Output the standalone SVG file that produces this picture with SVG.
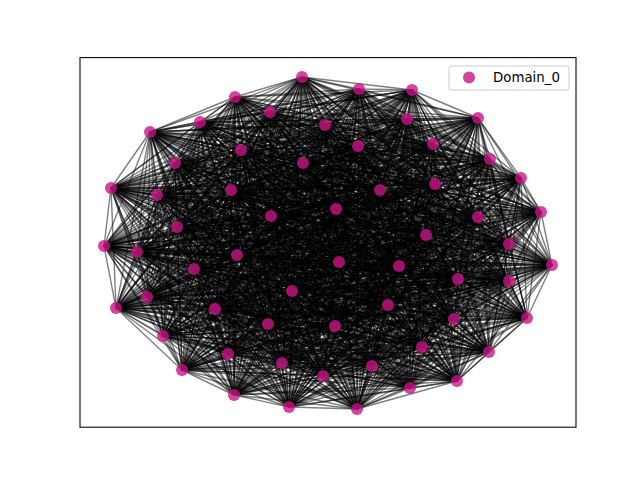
<svg xmlns="http://www.w3.org/2000/svg" width="640" height="480" viewBox="0 0 640 480">
<style>
.e{fill:none;stroke:#000;stroke-opacity:0.5;stroke-width:1.39;stroke-linejoin:round}
.n circle{fill:#c71585;fill-opacity:0.8}
.t{font-family:"DejaVu Sans",sans-serif;font-size:13.33px;fill:#000}
</style>
<rect x="0" y="0" width="640" height="480" fill="#fff"/>
<g id="edges">
<path class="e" d="M302 77 359 89 412 90 235 97 270 112 200 122 325 125 407 119 478 118 150 132 358 146 433 144 241 150 303 163 175 163 490 159 111 188 521 178 157 195 231 190 380 190 435 184 336 209 541 212 271 216 478 217 177 227 426 235 104 246 509 244 137 252 237 255 339 262 552 265 399 266 194 269 458 279 509 281 292 291 147 297 116 308 388 305 215 309 527 318 454 319 268 324 335 326 163 336 422 347 489 352 228 354 282 363 372 366 182 370 323 376 457 381 410 388 234 395 289 407 357 409Z"/>
<path class="e" d="M302 77 412 90 270 112 325 125 478 118 358 146 241 150 175 163 111 188 157 195 380 190 336 209 271 216 177 227 104 246 137 252 339 262 399 266 458 279 292 291 116 308 215 309 454 319 335 326 422 347 228 354 372 366 323 376 410 388 289 407Z M359 89 235 97 200 122 407 119 150 132 433 144 303 163 490 159 521 178 231 190 435 184 541 212 478 217 426 235 509 244 237 255 552 265 194 269 509 281 147 297 388 305 527 318 268 324 163 336 489 352 282 363 182 370 457 381 234 395 357 409Z"/>
<path class="e" d="M302 77 235 97 325 125 150 132 241 150 490 159 157 195 435 184 271 216 426 235 137 252 552 265 458 279 147 297 215 309 268 324 422 347 282 363 323 376 234 395Z M359 89 270 112 407 119 358 146 303 163 111 188 231 190 336 209 478 217 104 246 237 255 399 266 509 281 116 308 527 318 335 326 489 352 372 366 457 381 289 407Z M412 90 200 122 478 118 433 144 175 163 521 178 380 190 541 212 177 227 509 244 339 262 194 269 292 291 388 305 454 319 163 336 228 354 182 370 410 388 357 409Z"/>
<path class="e" d="M302 77 270 112 478 118 241 150 111 188 380 190 271 216 104 246 339 262 458 279 116 308 454 319 422 347 372 366 410 388Z M359 89 200 122 150 132 303 163 521 178 435 184 478 217 509 244 552 265 509 281 388 305 268 324 489 352 182 370 234 395Z M412 90 325 125 358 146 175 163 157 195 336 209 177 227 137 252 399 266 292 291 215 309 335 326 228 354 323 376 289 407Z M235 97 407 119 433 144 490 159 231 190 541 212 426 235 237 255 194 269 147 297 527 318 163 336 282 363 457 381 357 409Z"/>
<path class="e" d="M302 77 200 122 358 146 490 159 380 190 478 217 137 252 194 269 116 308 268 324 228 354 457 381Z M359 89 325 125 433 144 111 188 435 184 177 227 237 255 458 279 388 305 335 326 282 363 410 388Z M412 90 407 119 241 150 521 178 336 209 426 235 339 262 509 281 215 309 163 336 372 366 234 395Z M235 97 478 118 303 163 157 195 541 212 104 246 552 265 292 291 527 318 422 347 182 370 289 407Z M270 112 150 132 175 163 231 190 271 216 509 244 399 266 147 297 454 319 489 352 323 376 357 409Z"/>
<path class="e" d="M302 77 325 125 241 150 157 195 271 216 137 252 458 279 215 309 422 347 323 376Z M359 89 407 119 303 163 231 190 478 217 237 255 509 281 527 318 489 352 457 381Z M412 90 478 118 175 163 380 190 177 227 339 262 292 291 454 319 228 354 410 388Z M235 97 150 132 490 159 435 184 426 235 552 265 147 297 268 324 282 363 234 395Z M270 112 358 146 111 188 336 209 104 246 399 266 116 308 335 326 372 366 289 407Z M200 122 433 144 521 178 541 212 509 244 194 269 388 305 163 336 182 370 357 409Z"/>
<path class="e" d="M302 77 407 119 175 163 435 184 104 246 194 269 215 309 489 352 410 388 235 97 358 146 521 178 271 216 237 255 292 291 268 324 372 366 357 409 325 125 303 163 380 190 426 235 399 266 388 305 422 347 457 381 412 90 150 132 111 188 541 212 137 252 509 281 454 319 282 363 289 407 200 122 241 150 231 190 177 227 552 265 116 308 163 336 323 376 359 89 478 118 490 159 336 209 509 244 458 279 527 318 228 354 234 395 270 112 433 144 157 195 478 217 339 262 147 297 335 326 182 370Z"/>
<path class="e" d="M302 77 478 118 111 188 271 216 339 262 116 308 422 347 410 388 270 112 241 150 380 190 104 246 458 279 454 319 372 366Z M359 89 150 132 521 178 478 217 552 265 388 305 489 352 234 395 200 122 303 163 435 184 509 244 509 281 268 324 182 370Z M412 90 358 146 157 195 177 227 399 266 215 309 228 354 289 407 325 125 175 163 336 209 137 252 292 291 335 326 323 376Z M235 97 433 144 231 190 426 235 194 269 527 318 282 363 357 409 407 119 490 159 541 212 237 255 147 297 163 336 457 381Z"/>
<path class="e" d="M302 77 150 132 157 195 426 235 458 279 268 324 323 376 235 97 241 150 435 184 137 252 147 297 422 347 234 395 325 125 490 159 271 216 552 265 215 309 282 363Z M359 89 358 146 231 190 104 246 509 281 335 326 457 381 270 112 303 163 336 209 237 255 116 308 489 352 289 407 407 119 111 188 478 217 399 266 527 318 372 366Z M412 90 433 144 380 190 509 244 292 291 163 336 410 388 200 122 175 163 541 212 339 262 388 305 228 354 357 409 478 118 521 178 177 227 194 269 454 319 182 370Z"/>
<path class="e" d="M302 77 358 146 380 190 137 252 116 308 228 354Z M359 89 433 144 435 184 237 255 388 305 282 363Z M412 90 241 150 336 209 339 262 215 309 372 366Z M235 97 303 163 541 212 552 265 527 318 182 370Z M270 112 175 163 271 216 399 266 454 319 323 376Z M200 122 490 159 478 217 194 269 268 324 457 381Z M325 125 111 188 177 227 458 279 335 326 410 388Z M407 119 521 178 426 235 509 281 163 336 234 395Z M478 118 157 195 104 246 292 291 422 347 289 407Z M150 132 231 190 509 244 147 297 489 352 357 409Z"/>
<path class="e" d="M302 77 433 144 336 209 552 265 454 319 457 381 325 125 521 178 104 246 147 297 228 354 359 89 241 150 541 212 399 266 268 324 410 388 407 119 157 195 509 244 116 308 282 363 412 90 303 163 271 216 194 269 335 326 234 395 478 118 231 190 137 252 388 305 372 366 235 97 175 163 478 217 458 279 163 336 289 407 150 132 380 190 237 255 215 309 182 370 270 112 490 159 177 227 509 281 422 347 357 409 358 146 435 184 339 262 527 318 323 376 200 122 111 188 426 235 292 291 489 352Z"/>
<path class="e" d="M302 77 241 150 271 216 458 279 422 347Z M359 89 303 163 478 217 509 281 489 352Z M412 90 175 163 177 227 292 291 228 354Z M235 97 490 159 426 235 147 297 282 363Z M270 112 111 188 104 246 116 308 372 366Z M200 122 521 178 509 244 388 305 182 370Z M325 125 157 195 137 252 215 309 323 376Z M407 119 231 190 237 255 527 318 457 381Z M478 118 380 190 339 262 454 319 410 388Z M150 132 435 184 552 265 268 324 234 395Z M358 146 336 209 399 266 335 326 289 407Z M433 144 541 212 194 269 163 336 357 409Z"/>
<path class="e" d="M302 77 303 163 177 227 147 297 372 366 200 122 157 195 237 255 454 319 234 395 358 146 541 212 458 279 489 352 412 90 490 159 104 246 388 305 323 376 407 119 380 190 552 265 335 326 357 409 241 150 478 217 292 291 282 363 270 112 521 178 137 252 527 318 410 388 150 132 336 209 194 269 422 347 359 89 175 163 426 235 116 308 182 370 325 125 231 190 339 262 268 324 289 407 433 144 271 216 509 281 228 354 235 97 111 188 509 244 215 309 457 381 478 118 435 184 399 266 163 336Z"/>
<path class="e" d="M302 77 175 163 104 246 215 309 410 388 358 146 271 216 292 291 372 366 325 125 380 190 399 266 422 347 412 90 111 188 137 252 454 319 289 407 241 150 177 227 116 308 323 376 478 118 336 209 458 279 228 354 270 112 157 195 339 262 335 326Z M359 89 490 159 509 244 527 318 234 395 433 144 478 217 147 297 182 370 407 119 435 184 194 269 489 352 235 97 521 178 237 255 268 324 357 409 303 163 426 235 388 305 457 381 150 132 541 212 509 281 282 363 200 122 231 190 552 265 163 336Z"/>
<path class="e" d="M302 77 490 159 137 252 268 324Z M302 77 137 252 M490 159 268 324 M359 89 111 188 237 255 335 326Z M359 89 237 255 M111 188 335 326 M412 90 521 178 339 262 163 336Z M412 90 339 262 M521 178 163 336 M235 97 157 195 552 265 422 347Z M235 97 552 265 M157 195 422 347 M270 112 231 190 399 266 489 352Z M270 112 399 266 M231 190 489 352 M200 122 380 190 194 269 228 354Z M200 122 194 269 M380 190 228 354 M325 125 435 184 458 279 282 363Z M325 125 458 279 M435 184 282 363 M407 119 336 209 509 281 372 366Z M407 119 509 281 M336 209 372 366 M478 118 541 212 292 291 182 370Z M478 118 292 291 M541 212 182 370 M150 132 271 216 147 297 323 376Z M150 132 147 297 M271 216 323 376 M358 146 478 217 116 308 457 381Z M358 146 116 308 M478 217 457 381 M433 144 177 227 388 305 410 388Z M433 144 388 305 M177 227 410 388 M241 150 426 235 215 309 234 395Z M241 150 215 309 M426 235 234 395 M303 163 104 246 527 318 289 407Z M303 163 527 318 M104 246 289 407 M175 163 509 244 454 319 357 409Z M175 163 454 319 M509 244 357 409"/>
<path class="e" d="M302 77 111 188 339 262 422 347 270 112 380 190 458 279 372 366 478 118 271 216 116 308 410 388 241 150 104 246 454 319Z M359 89 521 178 552 265 489 352 200 122 435 184 509 281 182 370 150 132 478 217 388 305 234 395 303 163 509 244 268 324Z M412 90 157 195 399 266 228 354 325 125 336 209 292 291 323 376 358 146 177 227 215 309 289 407 175 163 137 252 335 326Z M235 97 231 190 194 269 282 363 407 119 541 212 147 297 457 381 433 144 426 235 527 318 357 409 490 159 237 255 163 336Z"/>
<path class="e" d="M302 77 521 178 399 266 282 363 478 118 478 217 215 309 357 409 111 188 552 265 228 354 407 119 271 216 388 305 289 407 490 159 339 262 489 352 325 125 541 212 116 308 234 395 175 163 237 255 422 347 200 122 336 209 147 297 410 388 303 163 137 252 163 336 270 112 435 184 292 291 457 381 241 150 509 244 335 326 235 97 380 190 509 281 323 376 433 144 104 246 268 324 412 90 231 190 458 279 182 370 358 146 426 235 454 319 359 89 157 195 194 269 372 366 150 132 177 227 527 318Z"/>
<path class="e" d="M302 77 157 195 458 279 323 376 241 150 137 252 422 347 325 125 271 216 215 309Z M359 89 231 190 509 281 457 381 303 163 237 255 489 352 407 119 478 217 527 318Z M412 90 380 190 292 291 410 388 175 163 339 262 228 354 478 118 177 227 454 319Z M235 97 435 184 147 297 234 395 490 159 552 265 282 363 150 132 426 235 268 324Z M270 112 336 209 116 308 289 407 111 188 399 266 372 366 358 146 104 246 335 326Z M200 122 541 212 388 305 357 409 521 178 194 269 182 370 433 144 509 244 163 336Z"/>
<path class="e" d="M302 77 231 190 292 291 234 395 111 188 194 269 323 376 303 163 339 262 282 363 358 146 509 244 422 347 407 119 177 227 268 324 270 112 541 212 215 309 359 89 380 190 147 297 289 407 521 178 458 279 457 381 175 163 552 265 372 366 433 144 137 252 489 352 478 118 426 235 335 326 200 122 271 216 527 318 412 90 435 184 116 308 357 409 157 195 509 281 410 388 490 159 399 266 182 370 241 150 237 255 228 354 150 132 104 246 163 336 325 125 478 217 454 319 235 97 336 209 388 305Z"/>
<path class="e" d="M302 77 380 190 116 308Z M359 89 435 184 388 305Z M412 90 336 209 215 309Z M235 97 541 212 527 318Z M270 112 271 216 454 319Z M200 122 478 217 268 324Z M325 125 177 227 335 326Z M407 119 426 235 163 336Z M478 118 104 246 422 347Z M150 132 509 244 489 352Z M358 146 137 252 228 354Z M433 144 237 255 282 363Z M241 150 339 262 372 366Z M303 163 552 265 182 370Z M175 163 399 266 323 376Z M490 159 194 269 457 381Z M111 188 458 279 410 388Z M521 178 509 281 234 395Z M157 195 292 291 289 407Z M231 190 147 297 357 409Z"/>
<path class="e" d="M302 77 435 184 215 309 235 97 271 216 268 324 325 125 426 235 422 347 150 132 137 252 282 363 241 150 552 265 323 376 490 159 458 279 234 395 157 195 147 297Z M359 89 336 209 527 318 270 112 478 217 335 326 407 119 104 246 489 352 358 146 237 255 372 366 303 163 399 266 457 381 111 188 509 281 289 407 231 190 116 308Z M412 90 541 212 454 319 200 122 177 227 163 336 478 118 509 244 228 354 433 144 339 262 182 370 175 163 194 269 410 388 521 178 292 291 357 409 380 190 388 305Z"/>
<path class="e" d="M302 77 336 209 454 319 325 125 104 246 228 354 241 150 399 266 410 388 157 195 116 308 412 90 271 216 335 326 478 118 137 252 372 366 175 163 458 279 289 407 380 190 215 309 270 112 177 227 422 347 358 146 339 262 323 376 111 188 292 291Z M359 89 541 212 268 324 407 119 509 244 282 363 303 163 194 269 234 395 231 190 388 305 235 97 478 217 163 336 150 132 237 255 182 370 490 159 509 281 357 409 435 184 527 318 200 122 426 235 489 352 433 144 552 265 457 381 521 178 147 297Z"/>
<path class="e" d="M302 77 541 212 335 326 150 132 339 262 457 381 157 195 388 305 270 112 426 235 228 354 303 163 458 279 357 409 336 209 268 324 478 118 237 255 323 376 521 178 116 308 235 97 177 227 489 352 241 150 194 269 289 407 435 184 454 319 407 119 137 252 182 370 111 188 147 297 412 90 478 217 422 347 433 144 399 266 234 395 380 190 527 318 325 125 509 244 372 366 490 159 292 291 359 89 271 216 163 336 358 146 552 265 410 388 231 190 215 309 200 122 104 246 282 363 175 163 509 281Z"/>
<path class="e" d="M302 77 271 216 422 347 241 150 458 279Z M359 89 478 217 489 352 303 163 509 281Z M412 90 177 227 228 354 175 163 292 291Z M235 97 426 235 282 363 490 159 147 297Z M270 112 104 246 372 366 111 188 116 308Z M200 122 509 244 182 370 521 178 388 305Z M325 125 137 252 323 376 157 195 215 309Z M407 119 237 255 457 381 231 190 527 318Z M478 118 339 262 410 388 380 190 454 319Z M150 132 552 265 234 395 435 184 268 324Z M358 146 399 266 289 407 336 209 335 326Z M433 144 194 269 357 409 541 212 163 336Z"/>
<path class="e" d="M302 77 478 217 228 354 490 159 116 308 200 122 137 252 457 381 380 190 268 324 358 146 194 269Z M359 89 177 227 282 363 111 188 388 305 325 125 237 255 410 388 435 184 335 326 433 144 458 279Z M412 90 426 235 372 366 521 178 215 309 407 119 339 262 234 395 336 209 163 336 241 150 509 281Z M235 97 104 246 182 370 157 195 527 318 478 118 552 265 289 407 541 212 422 347 303 163 292 291Z M270 112 509 244 323 376 231 190 454 319 150 132 399 266 357 409 271 216 489 352 175 163 147 297Z"/>
<path class="e" d="M302 77 177 227 372 366 157 195 454 319 358 146 458 279 412 90 104 246 323 376 380 190 335 326 241 150 292 291 270 112 137 252 410 388 336 209 422 347 175 163 116 308 325 125 339 262 289 407 271 216 228 354 111 188 215 309 478 118 399 266Z M359 89 426 235 182 370 231 190 268 324 433 144 509 281 235 97 509 244 457 381 435 184 163 336 303 163 147 297 200 122 237 255 234 395 541 212 489 352 490 159 388 305 407 119 552 265 357 409 478 217 282 363 521 178 527 318 150 132 194 269Z"/>
<path class="e" d="M302 77 426 235 323 376 435 184 422 347 490 159 215 309 150 132 458 279 235 97 137 252 234 395 271 216 282 363 157 195 268 324 241 150 147 297 325 125 552 265Z M359 89 104 246 457 381 336 209 489 352 111 188 527 318 358 146 509 281 270 112 237 255 289 407 478 217 372 366 231 190 335 326 303 163 116 308 407 119 399 266Z M412 90 509 244 410 388 541 212 228 354 521 178 454 319 433 144 292 291 200 122 339 262 357 409 177 227 182 370 380 190 163 336 175 163 388 305 478 118 194 269Z"/>
<path class="e" d="M302 77 104 246 410 388 271 216 372 366 380 190 422 347 111 188 454 319 241 150 116 308 478 118 458 279 270 112 339 262Z M359 89 509 244 234 395 478 217 182 370 435 184 489 352 521 178 268 324 303 163 388 305 150 132 509 281 200 122 552 265Z M412 90 137 252 289 407 177 227 323 376 336 209 228 354 157 195 335 326 175 163 215 309 358 146 292 291 325 125 399 266Z M235 97 237 255 357 409 426 235 457 381 541 212 282 363 231 190 163 336 490 159 527 318 433 144 147 297 407 119 194 269Z"/>
<path class="e" d="M302 77 509 244 289 407 426 235 410 388 478 217 323 376 541 212 372 366 435 184 228 354 231 190 422 347 521 178 335 326 490 159 454 319 303 163 215 309 433 144 116 308 150 132 292 291 407 119 458 279 200 122 399 266 235 97 339 262 359 89 137 252 357 409 104 246 234 395 177 227 457 381 271 216 182 370 336 209 282 363 380 190 489 352 157 195 163 336 111 188 268 324 175 163 527 318 241 150 388 305 358 146 147 297 478 118 509 281 325 125 194 269 270 112 552 265 412 90 237 255Z"/>
</g>
<g id="nodes" class="n">
<g id="n0"><circle cx="302" cy="77" r="6"/></g>
<g id="n1"><circle cx="359" cy="89" r="6"/></g>
<g id="n2"><circle cx="412" cy="90" r="6"/></g>
<g id="n3"><circle cx="235" cy="97" r="6"/></g>
<g id="n4"><circle cx="270" cy="112" r="6"/></g>
<g id="n5"><circle cx="200" cy="122" r="6"/></g>
<g id="n6"><circle cx="325" cy="125" r="6"/></g>
<g id="n7"><circle cx="407" cy="119" r="6"/></g>
<g id="n8"><circle cx="478" cy="118" r="6"/></g>
<g id="n9"><circle cx="150" cy="132" r="6"/></g>
<g id="n10"><circle cx="358" cy="146" r="6"/></g>
<g id="n11"><circle cx="433" cy="144" r="6"/></g>
<g id="n12"><circle cx="241" cy="150" r="6"/></g>
<g id="n13"><circle cx="303" cy="163" r="6"/></g>
<g id="n14"><circle cx="175" cy="163" r="6"/></g>
<g id="n15"><circle cx="490" cy="159" r="6"/></g>
<g id="n16"><circle cx="111" cy="188" r="6"/></g>
<g id="n17"><circle cx="521" cy="178" r="6"/></g>
<g id="n18"><circle cx="157" cy="195" r="6"/></g>
<g id="n19"><circle cx="231" cy="190" r="6"/></g>
<g id="n20"><circle cx="380" cy="190" r="6"/></g>
<g id="n21"><circle cx="435" cy="184" r="6"/></g>
<g id="n22"><circle cx="336" cy="209" r="6"/></g>
<g id="n23"><circle cx="541" cy="212" r="6"/></g>
<g id="n24"><circle cx="271" cy="216" r="6"/></g>
<g id="n25"><circle cx="478" cy="217" r="6"/></g>
<g id="n26"><circle cx="177" cy="227" r="6"/></g>
<g id="n27"><circle cx="426" cy="235" r="6"/></g>
<g id="n28"><circle cx="104" cy="246" r="6"/></g>
<g id="n29"><circle cx="509" cy="244" r="6"/></g>
<g id="n30"><circle cx="137" cy="252" r="6"/></g>
<g id="n31"><circle cx="237" cy="255" r="6"/></g>
<g id="n32"><circle cx="339" cy="262" r="6"/></g>
<g id="n33"><circle cx="552" cy="265" r="6"/></g>
<g id="n34"><circle cx="399" cy="266" r="6"/></g>
<g id="n35"><circle cx="194" cy="269" r="6"/></g>
<g id="n36"><circle cx="458" cy="279" r="6"/></g>
<g id="n37"><circle cx="509" cy="281" r="6"/></g>
<g id="n38"><circle cx="292" cy="291" r="6"/></g>
<g id="n39"><circle cx="147" cy="297" r="6"/></g>
<g id="n40"><circle cx="116" cy="308" r="6"/></g>
<g id="n41"><circle cx="388" cy="305" r="6"/></g>
<g id="n42"><circle cx="215" cy="309" r="6"/></g>
<g id="n43"><circle cx="527" cy="318" r="6"/></g>
<g id="n44"><circle cx="454" cy="319" r="6"/></g>
<g id="n45"><circle cx="268" cy="324" r="6"/></g>
<g id="n46"><circle cx="335" cy="326" r="6"/></g>
<g id="n47"><circle cx="163" cy="336" r="6"/></g>
<g id="n48"><circle cx="422" cy="347" r="6"/></g>
<g id="n49"><circle cx="489" cy="352" r="6"/></g>
<g id="n50"><circle cx="228" cy="354" r="6"/></g>
<g id="n51"><circle cx="282" cy="363" r="6"/></g>
<g id="n52"><circle cx="372" cy="366" r="6"/></g>
<g id="n53"><circle cx="182" cy="370" r="6"/></g>
<g id="n54"><circle cx="323" cy="376" r="6"/></g>
<g id="n55"><circle cx="457" cy="381" r="6"/></g>
<g id="n56"><circle cx="410" cy="388" r="6"/></g>
<g id="n57"><circle cx="234" cy="395" r="6"/></g>
<g id="n58"><circle cx="289" cy="407" r="6"/></g>
<g id="n59"><circle cx="357" cy="409" r="6"/></g>
</g>
<rect x="80" y="57.6" width="496" height="369.6" fill="none" stroke="#000" stroke-width="1.07"/>
<g id="legend">
<rect x="449" y="66" width="120" height="24" rx="2.5" fill="#fff" fill-opacity="0.8" stroke="#ccc" stroke-width="1"/>
<g class="n"><circle cx="469" cy="77.5" r="6"/></g>
<text class="t" x="493" y="82.3">Domain_0</text>
</g>
</svg>
